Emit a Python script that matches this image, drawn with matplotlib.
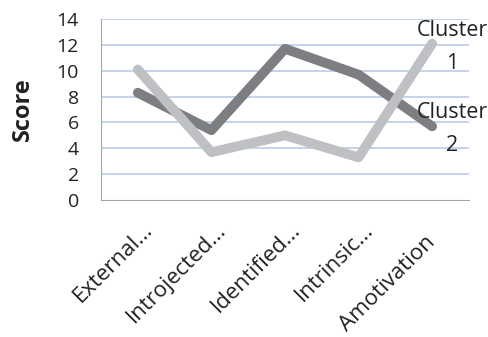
import matplotlib
matplotlib.use("Agg")
import matplotlib.pyplot as plt
import matplotlib.transforms as mtransforms
import numpy as np

# categories and cluster scores
categories = ["External...", "Introjected...", "Identified...", "Intrinsic...", "Amotivation"]
cluster1 = [8.3, 5.4, 11.7, 9.7, 5.7]
cluster2 = [10.1, 3.7, 5.0, 3.3, 12.1]
yticks = [0, 2, 4, 6, 8, 10, 12, 14]

plt.rcParams['font.family'] = ['Open Sans', 'DejaVu Sans']

fig = plt.figure(figsize=(4.88, 3.37), dpi=100)
ax = fig.add_axes([0.207, 0.4065, 0.754, 0.537])

x = np.arange(len(categories))
ax.plot(x, cluster1, color='#7d7e82', lw=7, solid_capstyle='round', solid_joinstyle='round', zorder=3)
ax.plot(x, cluster2, color='#bfc0c3', lw=7, solid_capstyle='round', solid_joinstyle='round', zorder=4)

ax.set_xlim(-0.5, 4.5)
ax.set_ylim(0, 14)
ax.set_yticks(yticks)
ax.set_yticklabels([str(v) for v in yticks], fontsize=14, color='#222222')
for v in yticks[1:]:
    ax.axhline(v, color='#b4c7e7', lw=1.1, zorder=1)

ax.set_xticks(x)
ax.set_xticklabels(categories, rotation=45, ha='right', va='center',
                   rotation_mode='anchor', fontsize=16, color='#222222')
ax.tick_params(length=0)
ax.tick_params(axis='y', pad=16)
ax.tick_params(axis='x', pad=28)

# excel pushes the truncated labels further along their direction
for lab in ax.get_xticklabels():
    if lab.get_text().endswith("..."):
        off = 12
    else:
        off = 0
    lab.set_transform(lab.get_transform() + mtransforms.ScaledTranslation(off / 100, off / 100, fig.dpi_scale_trans))

for s in ['top', 'right']:
    ax.spines[s].set_visible(False)
ax.spines['left'].set_color('#a6a6a6')
ax.spines['bottom'].set_color('#a6a6a6')

ax.set_ylabel("Score", fontsize=17, fontweight='bold', color='#222222')
ax.yaxis.set_label_coords(-0.18, 0.5)

# series labels at the right end
ax.text(4.27, 11.8, "Cluster\n1", ha='center', va='center', fontsize=15.5,
        linespacing=1.75, color='#222222', zorder=5)
ax.text(4.27, 5.53, "Cluster\n2", ha='center', va='center', fontsize=15.5,
        linespacing=1.75, color='#222222', zorder=5)

fig.savefig("out.png", dpi=100)
